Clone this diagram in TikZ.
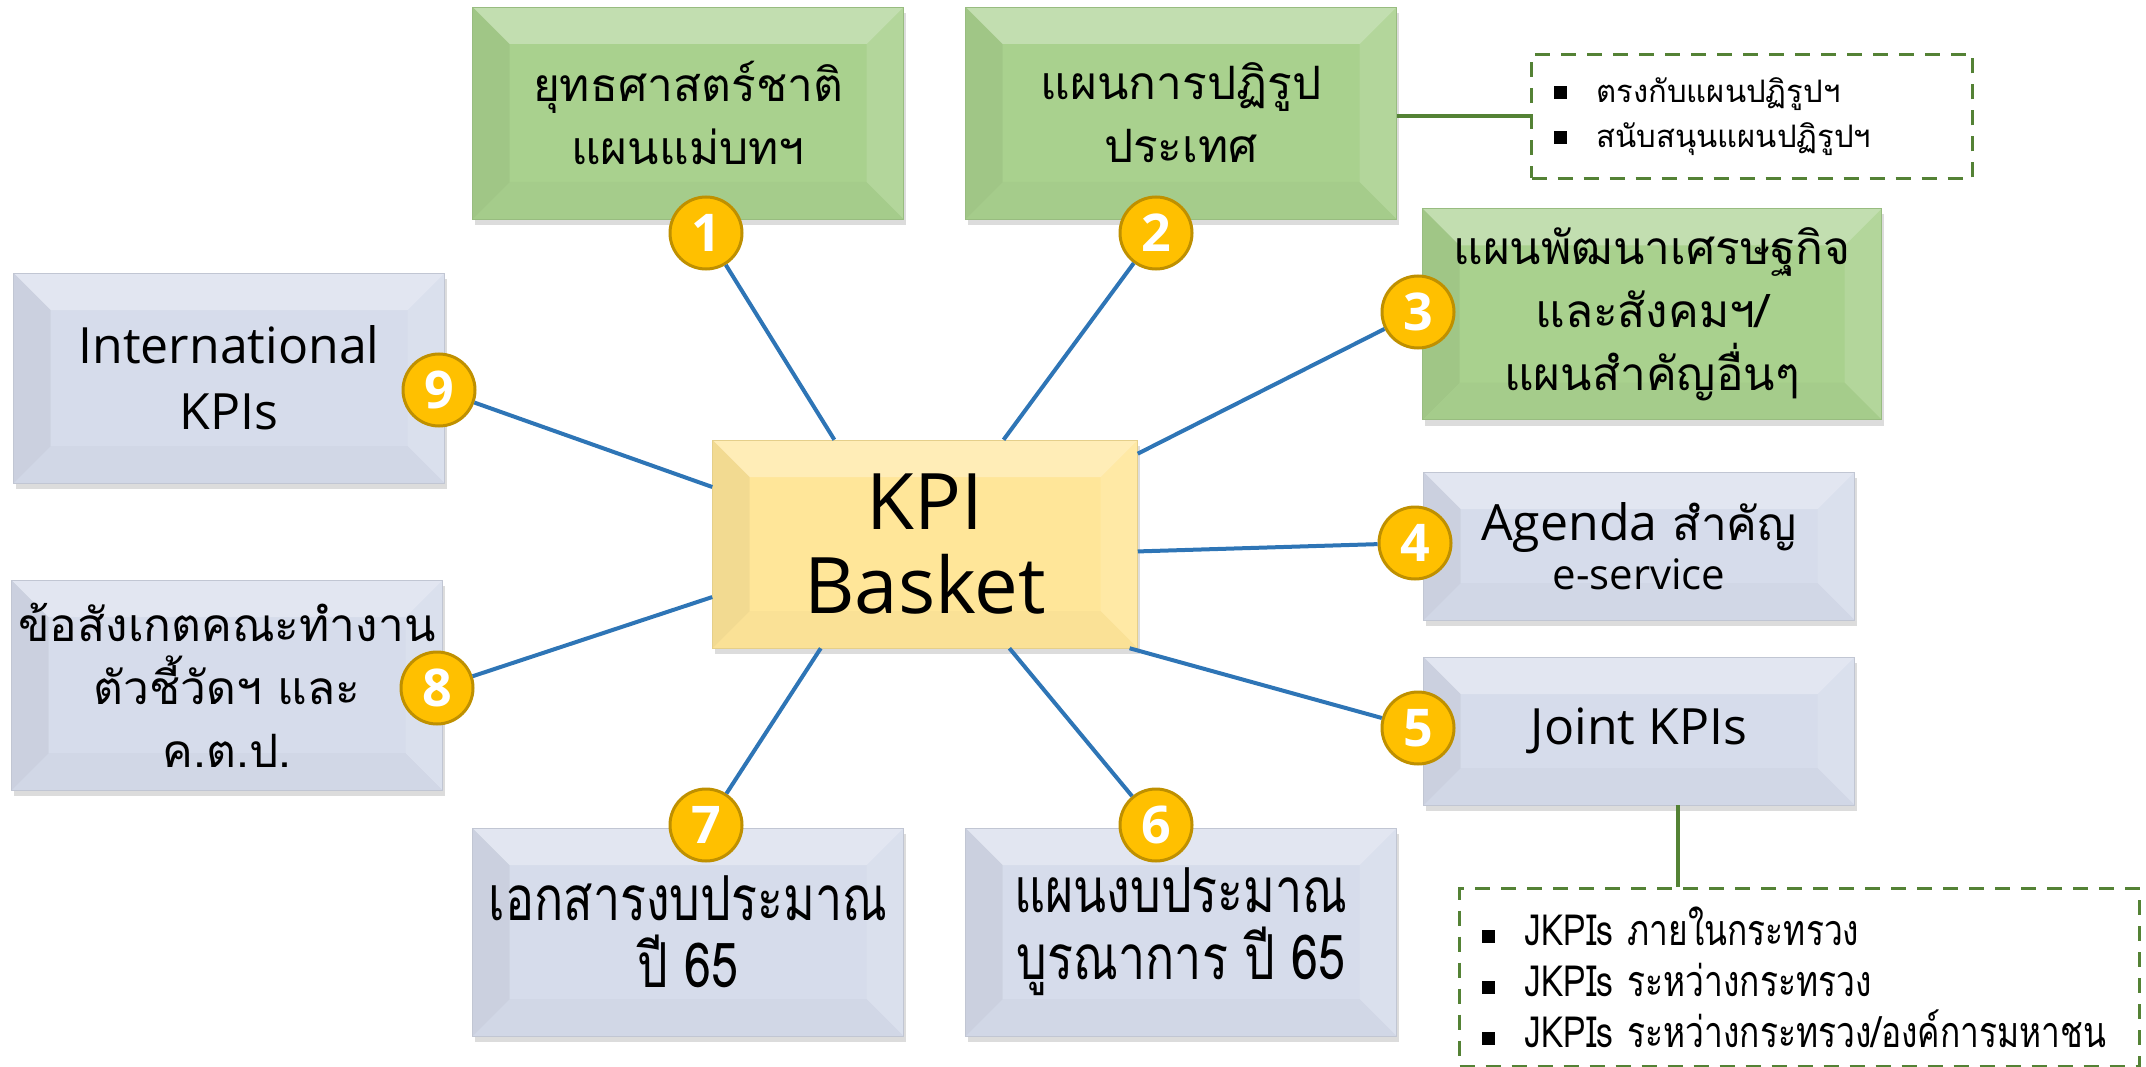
\documentclass[tikz,border=0pt]{standalone}
\usepackage{fontspec}
\setmainfont[Script=Thai]{Loma}
\newfontfamily\thaicond[Script=Thai,FakeStretch=0.78]{Loma}
\newfontfamily\latfont{Open Sans}
\usetikzlibrary{shadows}

\definecolor{leaf}{HTML}{A9D18E}
\definecolor{mist}{HTML}{D6DCEB}
\definecolor{butter}{HTML}{FFE699}
\definecolor{gold}{HTML}{FFC000}
\definecolor{steel}{HTML}{2E75B6}
\definecolor{moss}{HTML}{548235}

\newcommand{\platefont}{\fontsize{46}{63}\selectfont}
\newcommand{\latinplate}{\latfont\fontsize{50}{66}\selectfont}
\newcommand{\narrowplate}{\thaicond\fontsize{62}{67}\selectfont}
\newcommand{\corefont}{\latfont\fontsize{78}{84}\selectfont}
\newcommand{\badgefont}{\latfont\bfseries\fontsize{52}{52}\selectfont}
\newcommand{\notefont}{\fontsize{31}{45}\selectfont}
\newcommand{\listfont}{\thaicond\fontsize{43}{51}\selectfont}
\newcommand{\sq}{\rule[3pt]{13pt}{13pt}\hspace{30pt}}

% raised-panel look
\tikzset{bevel/.style={path picture={
	\def\bw{37pt}
	\coordinate (pw) at (path picture bounding box.north west);
	\coordinate (pe) at (path picture bounding box.north east);
	\coordinate (qe) at (path picture bounding box.south east);
	\coordinate (qw) at (path picture bounding box.south west);
	\fill[white, opacity=0.3] (pw) -- (pe) -- ([xshift=-\bw,yshift=-\bw]pe) -- ([xshift=\bw,yshift=-\bw]pw) -- cycle;
	\fill[black, opacity=0.05] (pw) -- ([xshift=\bw,yshift=-\bw]pw) -- ([xshift=\bw,yshift=\bw]qw) -- (qw) -- cycle;
	\fill[white, opacity=0.12] (pe) -- ([xshift=-\bw,yshift=-\bw]pe) -- ([xshift=-\bw,yshift=\bw]qe) -- (qe) -- cycle;
	\fill[black, opacity=0.02] (qw) -- ([xshift=\bw,yshift=\bw]qw) -- ([xshift=-\bw,yshift=\bw]qe) -- (qe) -- cycle;
}}}

\begin{document}
\begin{tikzpicture}[x=1pt,y=-1pt]
	\tikzstyle{plate} = [rectangle, inner sep=0pt, minimum width=431pt, minimum height=210pt, align=center, font=\platefont, line width=0.5pt, drop shadow={opacity=0.28, shadow xshift=2pt, shadow yshift=-6pt}, bevel]
	\tikzstyle{greenplate} = [plate, fill=leaf, draw=leaf!90!black]
	\tikzstyle{blueplate} = [plate, fill=mist, draw=mist!90!black]
	\tikzstyle{coreplate} = [plate, fill=butter, draw=butter!90!black, font=\corefont, minimum width=425pt, minimum height=208pt]
	\tikzstyle{badge} = [circle, draw=gold!75!black, fill=gold, line width=3pt, minimum size=72pt, inner sep=0pt, text=white, font=\badgefont]
	\tikzstyle{link} = [line width=4pt, draw=steel]
	\tikzstyle{notelink} = [line width=4pt, draw=moss]
	\tikzstyle{notebox} = [draw=moss, line width=3pt, dash pattern=on 15pt off 11pt, fill=white, align=left, inner sep=0pt]
\useasboundingbox (0,0) rectangle (2146,1067);

%center
\node[coreplate] (kpi) at (925,544) {KPI\\Basket};

%source plates
\node[greenplate, minimum height=212pt] (b1) at (688,113) {ยุทธศาสตร์ชาติ\\แผนแม่บทฯ};
\node[greenplate, minimum height=212pt] (b2) at (1181,113) {แผนการปฏิรูป\\ประเทศ};
\node[greenplate, minimum width=459pt, minimum height=211pt] (b3) at (1652,314) {แผนพัฒนาเศรษฐกิจ\\และสังคมฯ/\\แผนสำคัญอื่นๆ};
\node[blueplate, minimum height=148pt] (b4) at (1639,546) {{\latinplate Agenda} สำคัญ\\[-14pt]{\latfont\fontsize{42}{46}\selectfont e-service}};
\node[blueplate, minimum height=148pt, font=\latinplate] (b5) at (1639,731) {Joint KPIs};
\node[blueplate, minimum height=208pt, font=\narrowplate] (b6) at (1181,932) {แผนงบประมาณ\\บูรณาการ ปี 65};
\node[blueplate, minimum height=208pt, font=\narrowplate] (b7) at (688,932) {เอกสารงบประมาณ\\ปี 65};
\node[blueplate] (b8) at (227,685) {ข้อสังเกตคณะทำงาน\\ตัวชี้วัดฯ และ\\ค.ต.ป.};
\node[blueplate, font=\latinplate] (b9) at (229,378) {International\\KPIs};

%badges
\foreach \name/\x/\y/\num in {n1/706/233/1, n2/1156/233/2, n3/1418/312/3, n4/1415/543/4, n5/1418/728/5, n6/1156/825/6, n7/706/825/7, n8/437/688/8, n9/439/390/9}
	\node[badge] (\name) at (\x,\y) {\num};

\foreach \from/\ang in {n1/131, n2/53, n3/23, n4/-2, n5/-27, n6/-51, n7/-135, n8/194, n9/165}
	\draw[link] (\from) -- (kpi.\ang);

%side notes
\node[notebox, anchor=north west, minimum width=441pt, minimum height=124pt, text width=397pt, font=\notefont] (note1) at (1530,53) {\sq ตรงกับแผนปฏิรูปฯ\\\sq สนับสนุนแผนปฏิรูปฯ};
\node[notebox, anchor=north west, minimum width=680pt, minimum height=178pt, text width=636pt, font=\listfont] (note2) at (1458,887) {\sq JKPIs ภายในกระทรวง\\\sq JKPIs ระหว่างกระทรวง\\\sq JKPIs ระหว่างกระทรวง/องค์การมหาชน};

\draw[notelink] (note1.west -| b2.east) -- (note1.west);
\draw[notelink] ([xshift=39pt]b5.south) -- ([xshift=39pt]b5.south |- note2.north);
\end{tikzpicture}
\end{document}
